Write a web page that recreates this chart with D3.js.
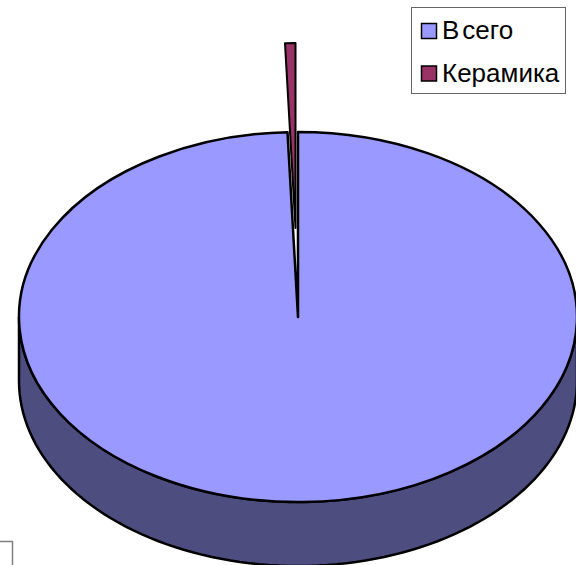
<!DOCTYPE html>
<html>
  <head>
    <meta charset="utf-8">
    <script src="https://d3js.org/d3.v7.min.js"></script>
    <style>
      html, body { margin: 0; padding: 0; background: #fff; overflow: hidden; }
      svg { display: block; }
      .legend { font-family: "Liberation Sans", Arial, sans-serif; font-size: 26px; fill: #000; }
    </style>
  </head>
  <body>
    <svg width="576" height="565"></svg>
    <script>
    var categories = ["Всего", "Керамика"];
    var values = [99.4, 0.6];
    var topColors = ["#9999ff", "#993366"];
    var sideColors = ["#4d4d80", "#4d1a33"];

    var svg = d3.select("svg");

    var cx = 298, cy = 317, rx = 279, ry = 185, depth = 64;
    var explodeX = -2.5, explodeY = -89;

    var pie = d3.pie().sort(null).value(function(d) { return d; });
    var arcs = pie(values);

    var arc = d3.arc().innerRadius(0).outerRadius(rx);
    var squash = ry / rx;

    // side wall of the disc, front half only
    var wall = d3.area()
        .x(function(a) { return rx * Math.cos(a); })
        .y0(function(a) { return ry * Math.sin(a); })
        .y1(function(a) { return ry * Math.sin(a) + depth; });

    var g = svg.append("g").attr("transform", "translate(" + cx + "," + cy + ")");

    g.append("path")
        .attr("d", wall(d3.range(0, 181, 2).map(function(a) { return a * Math.PI / 180; })))
        .attr("fill", sideColors[0])
        .attr("stroke", "#000")
        .attr("stroke-width", 2.5);

    g.append("path")
        .attr("transform", "scale(1," + squash + ")")
        .attr("d", arc(arcs[0]))
        .attr("fill", topColors[0])
        .attr("stroke", "#000")
        .attr("stroke-width", 2.5)
        .attr("vector-effect", "non-scaling-stroke")
        .attr("stroke-linejoin", "round");

    g.append("path")
        .attr("transform", "translate(" + explodeX + "," + explodeY + ") scale(1," + squash + ")")
        .attr("d", arc(arcs[1]))
        .attr("fill", topColors[1])
        .attr("stroke", "#000")
        .attr("stroke-width", 2)
        .attr("vector-effect", "non-scaling-stroke")
        .attr("stroke-linejoin", "round");

    // legend
    var legend = svg.append("g");
    legend.append("rect")
        .attr("x", 411.5).attr("y", 7.5)
        .attr("width", 154).attr("height", 86)
        .attr("fill", "#fff").attr("stroke", "#666");

    var rows = legend.selectAll(".row").data(categories).enter().append("g")
        .attr("transform", function(d, i) { return "translate(0," + (31 + i * 42.5) + ")"; });
    rows.append("rect")
        .attr("x", 421.5).attr("y", -7.5).attr("width", 15).attr("height", 15)
        .attr("fill", function(d, i) { return topColors[i]; })
        .attr("stroke", "#000").attr("stroke-width", 1.5);
    rows.append("text").attr("class", "legend")
        .attr("x", 442).attr("y", 8)
        .attr("dx", function(d, i) { return i == 0 ? "0 3" : null; })
        .text(function(d) { return d; });

    // clipped frame in the lower left corner
    svg.append("path").attr("d", "M0,541.5H12.5V565").attr("fill", "none")
        .attr("stroke", "#808080").attr("stroke-width", 1.5);
    </script>
  </body>
</html>
